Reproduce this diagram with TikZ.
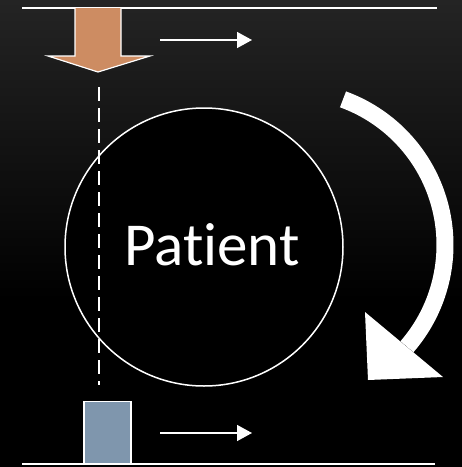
\documentclass[tikz,border=0pt]{standalone}
\usepackage{fontspec}
\setmainfont{Carlito}[Ligatures=NoCommon]
\usetikzlibrary{positioning}
\usetikzlibrary{calc}
\usetikzlibrary{arrows.meta}
\definecolor{beam}{RGB}{205,140,98}
\definecolor{detector}{RGB}{127,150,173}
\definecolor{bgtop}{RGB}{36,36,36}

\begin{document}
\begin{tikzpicture}[x=1pt, y=-1pt]
    \tikzset{
        rail/.style={white, line width=1.5pt},
        move/.style={white, line width=1.5pt, -{Triangle[length=15pt, width=16pt]}},
    }
    % background
    \fill[black] (0, 0) rectangle (462, 467);
    \shade[top color=bgtop, bottom color=black] (0, 0) rectangle (462, 300);
    \useasboundingbox (0, 0) rectangle (462, 467);

    % rails
    \draw[rail] (22, 8) -- (437, 8);
    \draw[rail] (22, 464) -- (435, 464);

    % patient
    \node[circle, draw=white, fill=black, line width=1.5pt, minimum size=278pt,
          inner sep=0pt] (patient) at (204, 247) {};
    \node[text=white, font=\fontsize{61}{73}\selectfont] (label) at (212, 245) {Patient};

    % source
    \fill[beam] (75, 8) -- (121, 8) -- (121, 56) -- (150, 56) -- (98, 72)
        -- (48, 56) -- (75, 56) -- cycle;
    \draw[white, line width=1.2pt] (75, 8) -- (75, 56) -- (48, 56) -- (98, 72)
        -- (150, 56) -- (121, 56) -- (121, 8);

    % detector
    \node[draw=white, fill=detector, line width=1.5pt, minimum width=47pt,
          minimum height=62pt, inner sep=0pt, anchor=south west] (det) at (83, 464) {};

    % central ray
    \coordinate (rayA) at (99, 87);
    \coordinate (rayB) at (99, 385);
    \draw[white, line width=2pt, dash pattern=on 14pt off 7pt] (rayA) -- (rayB);

    % translation
    \coordinate (topA) at (160, 40);
    \coordinate (topB) at (252, 40);
    \coordinate (botA) at (160, 433);
    \coordinate (botB) at (252, 433);
    \draw[move] (topA) -- (topB);
    \draw[move] (botA) -- (botB);

    % rotation
    \coordinate (rot) at (290, 245);
    \draw[white, line width=17pt] ($(rot)+(-70:155)$) arc (-70:41:155);
    \fill[white] (365, 312) -- (443, 377) -- (368, 380) -- cycle;
\end{tikzpicture}
\end{document}
